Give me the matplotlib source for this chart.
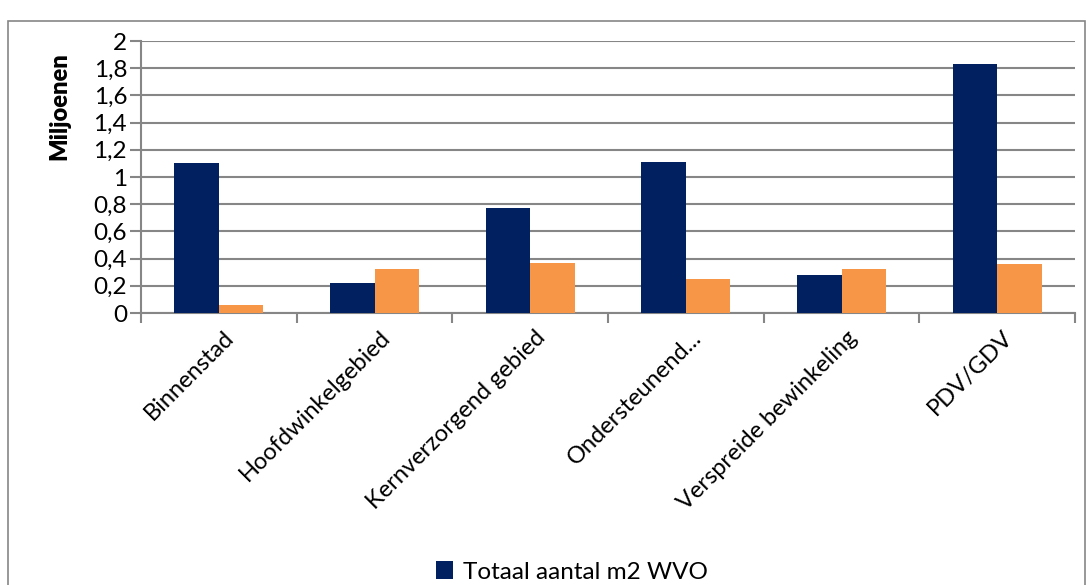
import matplotlib.pyplot as plt
import matplotlib.patches as patches
import numpy as np

# Winkelvloeroppervlak per gebiedstype (miljoenen m2)
gebieden = ["Binnenstad", "Hoofdwinkelgebied", "Kernverzorgend gebied",
            "Ondersteunend...", "Verspreide bewinkeling", "PDV/GDV"]
totaal_wvo = [1.10, 0.22, 0.77, 1.11, 0.28, 1.83]
tweede_reeks = [0.06, 0.32, 0.37, 0.25, 0.32, 0.36]
y_ticks = [0, 0.2, 0.4, 0.6, 0.8, 1, 1.2, 1.4, 1.6, 1.8, 2]
y_labels = ["0", "0,2", "0,4", "0,6", "0,8", "1", "1,2", "1,4", "1,6", "1,8", "2"]

plt.rcParams['font.family'] = ['Lato', 'DejaVu Sans']

NAVY = "#002060"
ORANJE = "#F79646"
GRIJS = "#868686"

fig = plt.figure(figsize=(10.9, 5.85), dpi=100)
ax = fig.add_axes([141/1090, 1 - 313/585, (1075 - 141)/1090, (313 - 41)/585])

# Kader rond de grafiek
kader = patches.Rectangle((8/1090, -0.05), (1085 - 8)/1090, (575 - 11)/585 + 0.05,
                          transform=fig.transFigure, fill=False,
                          edgecolor=GRIJS, lw=1.2, clip_on=False)
fig.patches.append(kader)

x = np.arange(len(gebieden))
breedte = 0.286
ax.bar(x - breedte/2, totaal_wvo, breedte, color=NAVY, label="Totaal aantal m2 WVO", zorder=3)
ax.bar(x + breedte/2, tweede_reeks, breedte, color=ORANJE, zorder=3)

ax.set_xlim(-0.5, len(gebieden) - 0.5)
ax.set_ylim(0, 2)
ax.set_yticks(y_ticks)
ax.set_yticklabels(y_labels, fontsize=17.5)
ax.yaxis.grid(True, color=GRIJS, lw=1.5, zorder=0)

# Tickjes op de grenzen tussen de categorieën
ax.set_xticks(np.arange(-0.5, len(gebieden)))
ax.set_xticklabels([])
ax.tick_params(axis='x', length=7, width=1.5, color=GRIJS, direction='out')
ax.tick_params(axis='y', length=8, width=1.5, color=GRIJS, direction='out', pad=2)
for i, naam in enumerate(gebieden):
    ax.text(i + 0.03, -0.1, naam, rotation=45, ha='right', va='top',
            rotation_mode='anchor', fontsize=17)

for kant in ['top', 'right']:
    ax.spines[kant].set_visible(False)
for kant in ['left', 'bottom']:
    ax.spines[kant].set_color(GRIJS)
    ax.spines[kant].set_linewidth(1.5)

ax.set_ylabel("Miljoenen", fontsize=17, fontweight='heavy')
ax.yaxis.set_label_coords(-0.076, 0.76)

handles, labels = ax.get_legend_handles_labels()
fig.legend(handles, labels, loc='center', bbox_to_anchor=(572/1090, 1 - 572/585),
           frameon=False, fontsize=17.5, handlelength=0.7, handleheight=0.7,
           handletextpad=0.4)

fig.savefig("out.png", dpi=100)
